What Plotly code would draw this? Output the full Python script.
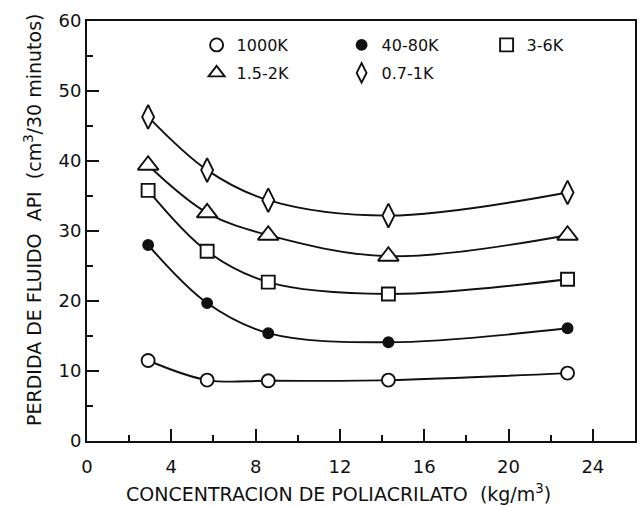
import plotly.graph_objects as go

# Polyacrylate concentration (kg/m3)
concentration = [2.9, 5.7, 8.6, 14.3, 22.8]

# API fluid loss (cm3 / 30 min) for each polymer molecular weight
series_names = ["1000K", "40-80K", "3-6K", "1.5-2K", "0.7-1K"]
loss_1000k = [11.5, 8.7, 8.6, 8.7, 9.7]
loss_40_80k = [28.0, 19.7, 15.4, 14.1, 16.1]
loss_3_6k = [35.8, 27.1, 22.7, 21.0, 23.1]
loss_15_2k = [39.4, 32.6, 29.4, 26.4, 29.4]
loss_07_1k = [46.3, 38.7, 34.4, 32.2, 35.5]

x_tick_values = [0, 4, 8, 12, 16, 20, 24]
y_tick_values = [0, 10, 20, 30, 40, 50, 60]

FONT = "DejaVu Sans"
INK = "#111111"

# (values, symbol, size, fill, legend row)
styles = [
    (loss_1000k, "circle", 13, "white", "legend"),
    (loss_40_80k, "circle", 10, INK, "legend"),
    (loss_3_6k, "square", 13, "white", "legend"),
    (loss_15_2k, "triangle-up", 18, "white", "legend2"),
    (loss_07_1k, "diamond-tall", 17, "white", "legend2"),
]

fig = go.Figure()

for name, (values, symbol, size, fill, _) in zip(series_names, styles):
    # fitted curve through the measurements
    fig.add_trace(go.Scatter(
        x=concentration, y=values, mode="lines+markers",
        line=dict(color=INK, width=1.9, shape="spline", smoothing=1.0),
        marker=dict(symbol=symbol, size=size, color=fill,
                    line=dict(color=INK, width=1.9)),
        showlegend=False, cliponaxis=False,
    ))

for name, (values, symbol, size, fill, row) in zip(series_names, styles):
    # legend key: marker only
    fig.add_trace(go.Scatter(
        x=[None], y=[None], mode="markers", name=name, legend=row,
        marker=dict(symbol=symbol, size=min(size, 14), color=fill,
                    line=dict(color=INK, width=1.9)),
    ))

axis_common = dict(
    showline=True, linecolor=INK, linewidth=2, mirror=True,
    ticks="inside", tickcolor=INK, tickwidth=2, ticklen=12,
    showgrid=False, zeroline=False,
    tickfont=dict(family=FONT, size=18, color=INK),
)

fig.update_xaxes(
    range=[0, 26], tickvals=x_tick_values, ticklabelstandoff=8,
    minor=dict(dtick=2, tick0=0, ticks="inside", ticklen=6, tickwidth=1.5, tickcolor=INK, showgrid=False),
    **axis_common,
)
fig.update_yaxes(
    range=[0, 60], tickvals=y_tick_values,
    minor=dict(dtick=5, tick0=0, ticks="inside", ticklen=6, tickwidth=1.5, tickcolor=INK, showgrid=False),
    **axis_common,
)

legend_common = dict(
    orientation="h", xanchor="left", yanchor="middle",
    entrywidth=100, entrywidthmode="pixels",
    font=dict(family=FONT, size=16, color=INK),
    bgcolor="rgba(0,0,0,0)",
)

fig.update_layout(
    width=639, height=507,
    margin=dict(l=87, r=4, t=21, b=66, autoexpand=False),
    paper_bgcolor="white", plot_bgcolor="white",
    font=dict(family=FONT, color=INK),
    legend=dict(x=0.2, y=(441 - 45) / 420, **legend_common),
    legend2=dict(x=0.2, y=(441 - 73) / 420, **legend_common),
    annotations=[
        dict(text="CONCENTRACION DE POLIACRILATO  (kg/m<sup>3</sup>)",
             xref="paper", yref="paper", x=(338 - 87) / 548, y=(441 - 493) / 420,
             xanchor="center", yanchor="middle", showarrow=False,
             font=dict(family=FONT, size=19, color=INK)),
        dict(text="PERDIDA DE FLUIDO  API  (cm<sup>3</sup>/30 minutos)",
             xref="paper", yref="paper", x=(33 - 87) / 548, y=(441 - 220) / 420,
             xanchor="center", yanchor="middle", showarrow=False, textangle=-90,
             font=dict(family=FONT, size=19, color=INK)),
    ],
)

fig.write_html("out.html")
